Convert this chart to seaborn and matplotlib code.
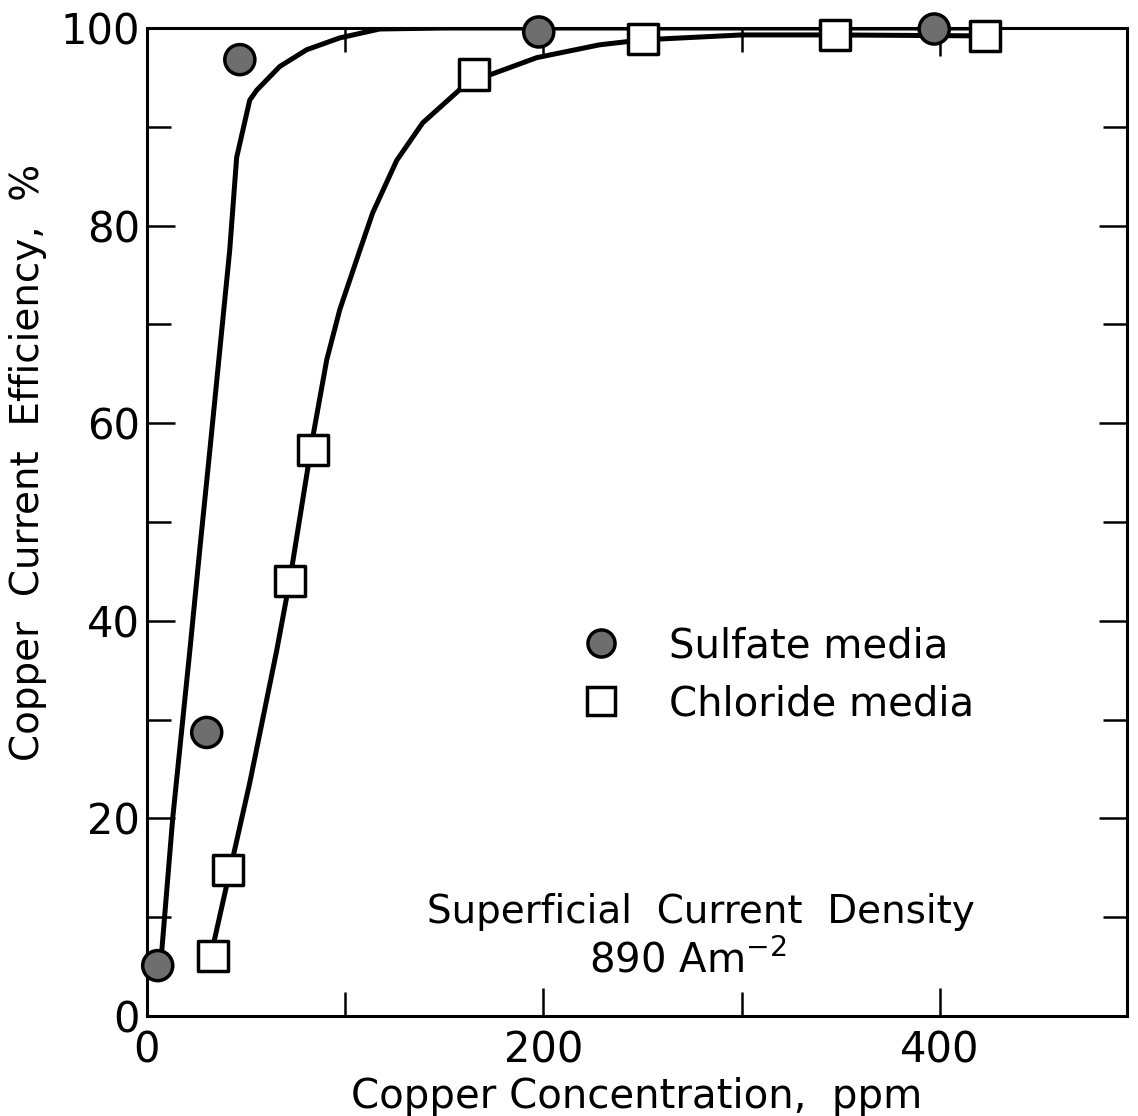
import pandas as pd
import matplotlib.pyplot as plt
import seaborn as sns
from matplotlib.ticker import MultipleLocator

sulfate_x = [5.5, 30.2, 46.9, 197.6, 397.0]
sulfate_y = [5.1, 28.7, 96.8, 99.6, 99.9]
chloride_x = [33.3, 40.8, 72.1, 83.7, 164.8, 250.0, 346.8, 422.4]
chloride_y = [6.1, 14.8, 44.0, 57.3, 95.3, 98.9, 99.3, 99.2]

# Courbes tracees a la main (points lus le long du trait)
sulfate_curve_x = [7.6, 13.1, 21.7, 26.7, 31.8, 36.8, 41.8, 45.3, 51.9, 55.4,
                   67.0, 80.6, 97.3, 117.4, 150.0, 250.0, 350.0, 425.0]
sulfate_curve_y = [6.7, 20.1, 37.0, 47.2, 57.3, 67.4, 77.5, 86.9, 92.7, 93.7,
                   96.1, 97.8, 99.0, 99.9, 100.0, 100.0, 100.0, 100.0]
chloride_curve_x = [33.3, 42.8, 51.9, 65.5, 72.1, 83.7, 90.7, 97.3, 107.4, 113.9,
                    126.0, 139.1, 161.3, 196.6, 228.3, 250.0, 300.0, 346.8, 422.4]
chloride_curve_y = [7.0, 15.5, 23.6, 37.0, 44.1, 58.6, 66.4, 71.5, 77.5, 81.3,
                    86.6, 90.4, 94.4, 97.0, 98.3, 98.8, 99.3, 99.3, 99.2]

df_pts = pd.DataFrame({
    'conc': sulfate_x + chloride_x,
    'eff': sulfate_y + chloride_y,
    'media': ['Sulfate media'] * len(sulfate_x) + ['Chloride media'] * len(chloride_x),
})

sns.set_style('ticks', {'text.color': 'black', 'axes.labelcolor': 'black',
                        'xtick.color': 'black', 'ytick.color': 'black',
                        'axes.edgecolor': 'black'})
plt.rcParams['font.family'] = ['DejaVu Sans']

fig = plt.figure(figsize=(11.38, 11.16), dpi=100)
ax = fig.add_axes([0.129, 0.0896, 0.861, 0.8853])

# Courbes
sns.lineplot(x=sulfate_curve_x, y=sulfate_curve_y, sort=False, estimator=None,
             color='black', linewidth=3.6, ax=ax, zorder=2)
sns.lineplot(x=chloride_curve_x, y=chloride_curve_y, sort=False, estimator=None,
             color='black', linewidth=3.6, ax=ax, zorder=2)

# Points
sns.scatterplot(data=df_pts, x='conc', y='eff', hue='media', style='media',
                palette={'Sulfate media': '#6e6e6e', 'Chloride media': 'white'},
                markers={'Sulfate media': 'o', 'Chloride media': 's'},
                s=470, edgecolor='black', linewidth=2.5, ax=ax, zorder=3,
                clip_on=False)

ax.set_xlim(0, 494)
ax.set_ylim(0, 100)
ax.xaxis.set_major_locator(MultipleLocator(200))
ax.xaxis.set_minor_locator(MultipleLocator(100))
ax.yaxis.set_major_locator(MultipleLocator(20))
ax.yaxis.set_minor_locator(MultipleLocator(10))
ax.tick_params(which='both', direction='in', top=True, right=True, width=1.8, color='black')
ax.tick_params(axis='x', which='major', length=20, labelsize=30, pad=10)
ax.tick_params(axis='y', which='major', length=20, labelsize=30, pad=5)
ax.tick_params(which='minor', length=17)
for sp in ax.spines.values():
    sp.set_linewidth(2.2)

ax.set_xlabel('Copper Concentration,  ppm', fontsize=29, labelpad=4)
ax.set_ylabel('Copper  Current  Efficiency,  %', fontsize=28)
ax.yaxis.set_label_coords(-0.102, 0.56)

leg = ax.legend(loc='center left', bbox_to_anchor=(0.385, 0.345), frameon=False,
                fontsize=29, handletextpad=0.7, labelspacing=0.45, markerscale=0.9)

ax.text(0.565, 0.105, 'Superficial  Current  Density', transform=ax.transAxes,
        fontsize=28, ha='center', va='center')
ax.text(0.552, 0.056, '890 Am$^{-2}$', transform=ax.transAxes,
        fontsize=29, ha='center', va='center')

plt.savefig('out.png', dpi=100)
